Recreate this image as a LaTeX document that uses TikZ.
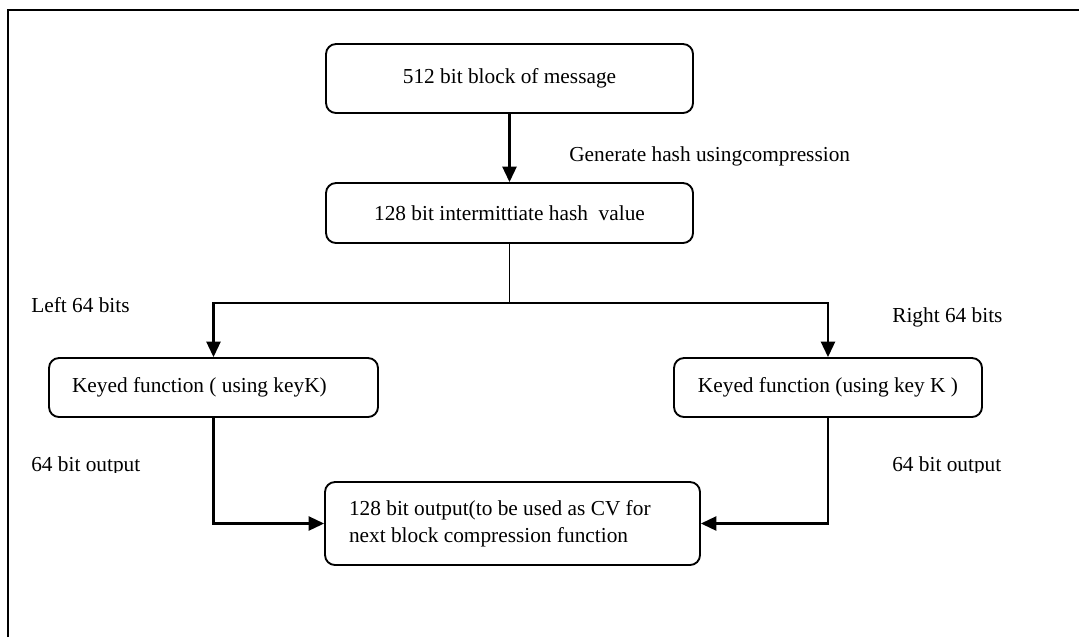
\documentclass[tikz,border=0pt]{standalone}
\usepackage{fontspec}
\setmainfont{Liberation Serif}
\usetikzlibrary{arrows.meta}
\begin{document}
\begin{tikzpicture}[x=0.75pt,y=-0.75pt,
  every node/.style={font=\fontsize{16}{20.25}\selectfont},
  box/.style={draw, line width=1.4pt, rounded corners=7.5pt, inner sep=0pt},
  lbl/.style={inner sep=0pt, anchor=base west},
  conn/.style={line width=1.6pt},
  arr/.style={conn, -{Triangle[length=11.5pt,width=10.5pt]}}]
\useasboundingbox (0,0) rectangle (1079,637);
% frame
\draw[line width=1.5pt] (8.3,637) -- (8.3,10) -- (1079,10);
% boxes
\node[box, minimum width=275.25pt, minimum height=51.75pt] (b1) at (509.5,78.5) {512 bit block of message};
\node[box, minimum width=275.25pt, minimum height=45pt] (b2) at (509.5,213) {128 bit intermittiate hash\ \ value};
\node[box, minimum height=44.25pt, inner xsep=17.25pt, text width=212.25pt, align=flush left] (lk) at (213.5,387.5) {Keyed function ( using keyK)};
\node[box, minimum width=231pt, minimum height=44.25pt] (rk) at (828,387.5) {Keyed function (using key K )};
\node[box, minimum height=62.25pt, inner xsep=18pt, text width=245.25pt, align=flush left] (out) at (512.5,523.5) {128 bit output(to be used as CV for\\next block compression function};
% labels
\node[lbl] (gen) at (569,161) {Generate hash usingcompression};
\node[lbl] (left) at (31,312) {Left 64 bits};
\node[lbl] (right) at (892,322) {Right 64 bits};
\begin{scope}
\clip (0,440) rectangle (1079,472);
\node[lbl] (lo) at (31,471) {64 bit output};
\node[lbl] (ro) at (892,471) {64 bit output};
\end{scope}
% connectors
\coordinate (split) at (509.5,303);
\draw[arr] (b1) -- (b2);
\draw[line width=1.4pt] (b2.south) -- (split);
\draw[arr] (split) -| (lk.north);
\draw[arr] (split) -| (rk.north);
\draw[arr] (lk.south) |- (out.west);
\draw[arr] (rk.south) |- (out.east);
\end{tikzpicture}
\end{document}
